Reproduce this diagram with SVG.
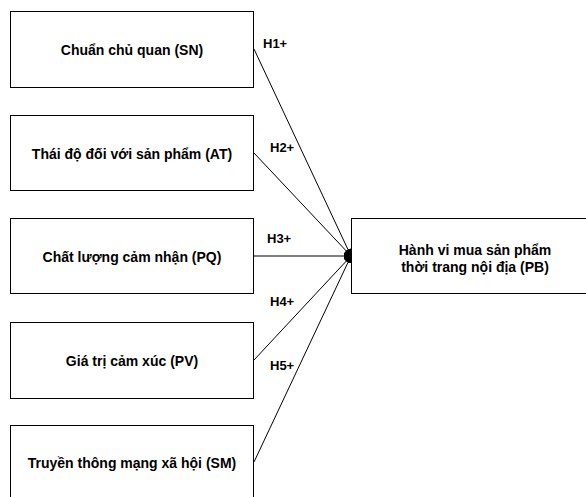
<svg xmlns="http://www.w3.org/2000/svg" width="586" height="497" viewBox="0 0 586 497">
<style>
.box{fill:#fff;stroke:#000;stroke-width:1}
.t{font-family:"Liberation Sans",Arial,sans-serif;font-weight:bold;font-size:14px;fill:#000;text-anchor:middle}
.h{font-family:"Liberation Sans",Arial,sans-serif;font-weight:bold;font-size:13px;fill:#000}
.c{stroke:#000;stroke-width:1;fill:none;marker-end:url(#ah)}
</style>
<defs>
<marker id="ah" viewBox="0 0 10 10" refX="10" refY="5" markerWidth="7" markerHeight="7" markerUnits="userSpaceOnUse" orient="auto">
<path d="M0,0 L10,5 L0,10 z" fill="#000"/>
</marker>
</defs>
<rect width="586" height="497" fill="#fff"/>
<g id="connectors">
<line class="c" x1="254" y1="49" x2="351" y2="256"/>
<line class="c" x1="254" y1="153" x2="351" y2="256"/>
<line class="c" x1="254" y1="256" x2="351" y2="256"/>
<line class="c" x1="254" y1="360" x2="351" y2="256"/>
<line class="c" x1="254" y1="462" x2="351" y2="256"/>
<text class="h" x="263" y="48">H1+</text>
<text class="h" x="270" y="152">H2+</text>
<text class="h" x="267" y="243">H3+</text>
<text class="h" x="270" y="306">H4+</text>
<text class="h" x="270" y="370">H5+</text>
</g>
<g id="SN"><rect class="box" x="10.5" y="11.5" width="243" height="76"/><text class="t" x="132" y="55">Chuẩn chủ quan (SN)</text></g>
<g id="AT"><rect class="box" x="10.5" y="115.5" width="243" height="75"/><text class="t" x="132" y="158.5">Thái độ đối với sản phẩm (AT)</text></g>
<g id="PQ"><rect class="box" x="10.5" y="218.5" width="243" height="75"/><text class="t" x="132" y="261.5">Chất lượng cảm nhận (PQ)</text></g>
<g id="PV"><rect class="box" x="10.5" y="322.5" width="243" height="76"/><text class="t" x="132" y="365.5">Giá trị cảm xúc (PV)</text></g>
<g id="SM"><rect class="box" x="10.5" y="425.5" width="243" height="80"/><text class="t" x="132" y="468">Truyền thông mạng xã hội (SM)</text></g>
<g id="PB"><rect class="box" x="351.5" y="218.5" width="240" height="75"/><text class="t" x="475" y="255">Hành vi mua sản phẩm</text><text class="t" x="475" y="272">thời trang nội địa (PB)</text></g>
</svg>
